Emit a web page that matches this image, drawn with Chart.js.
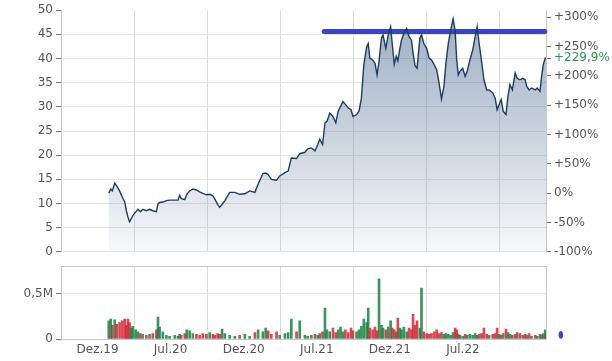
<!DOCTYPE html>
<html lang="de">
<head>
<meta charset="utf-8">
<script src="https://cdn.jsdelivr.net/npm/chart.js@4.4.1/dist/chart.umd.min.js"></script>
<style>
    html, body { margin: 0; padding: 0; background: #fff; }
    #wrap { position: relative; width: 612px; height: 361px; overflow: hidden; }
    #kursChart { position: absolute; left: 0; top: 0; }
    #volChart { position: absolute; left: 0; top: 256px; }
</style>
</head>
<body>
<div id="wrap">
    <canvas id="kursChart" width="612" height="262"></canvas>
    <canvas id="volChart" width="612" height="105"></canvas>
</div>
<script>
// Kursverlauf (Tage seit 31.12.2019), Schlusskurs und Volumen in Mio.
const tage = [
    28, 33, 37, 43, 48, 55, 62, 68, 72, 76,
    80, 84, 88, 95, 101, 107, 113, 122, 130, 138,
    147, 151, 155, 163, 172, 180, 193, 201, 205, 209,
    218, 223, 230, 238, 247, 255, 263, 272, 280, 288,
    293, 300, 305, 311, 318, 330, 343, 355, 368, 380,
    393, 401, 413, 420, 426, 434, 447, 455, 468, 476,
    484, 497, 505, 518, 525, 534, 543, 550, 555, 562,
    568, 573, 580, 588, 595, 601, 607, 613, 619, 626,
    633, 638, 647, 653, 659, 665, 672, 676, 680, 687,
    693, 698, 703, 709, 713, 720, 726, 732, 736, 741,
    746, 750, 755, 759, 765, 772, 778, 784, 788, 793,
    798, 805, 809, 815, 822, 828, 834, 841, 847, 853,
    859, 865, 870, 876, 882, 888, 893, 897, 901, 905,
    912, 918, 923, 930, 937, 943, 948, 953, 959, 965,
    972, 978, 987, 993, 998, 1003, 1008, 1013, 1020, 1025,
    1030, 1036, 1043, 1048, 1055, 1062, 1068, 1072, 1078, 1084,
    1093, 1098, 1105, 1109, 1113, 1118, 1120
];
const kurs = [
    12.14, 13.0, 12.6, 14.2, 13.6, 12.6, 11.3, 10.3, 8.5, 7.2,
    6.2, 6.8, 7.5, 8.2, 8.8, 8.3, 8.8, 8.5, 8.8, 8.5,
    8.3, 9.9, 10.2, 10.3, 10.6, 10.7, 10.7, 10.7, 11.7, 11.0,
    10.8, 11.9, 12.6, 13.0, 12.8, 12.4, 12.1, 11.8, 11.9, 11.6,
    10.9, 9.8, 9.2, 9.8, 10.6, 12.3, 12.3, 11.9, 12.0, 12.6,
    12.3, 14.0, 16.2, 16.3, 16.0, 15.0, 14.8, 15.7, 16.4, 16.7,
    19.4, 19.3, 20.3, 20.6, 21.3, 21.5, 20.9, 22.2, 23.3, 22.2,
    26.7, 27.0, 28.7, 28.0, 26.7, 29.1, 30.1, 31.1, 30.5, 29.8,
    29.4, 28.0, 28.4, 29.1, 31.8, 38.7, 42.4, 43.1, 40.1, 39.7,
    39.0, 36.6, 39.4, 44.2, 44.9, 42.1, 44.9, 46.6, 43.0, 38.8,
    40.5, 39.5, 42.0, 43.8, 45.2, 46.2, 44.5, 43.8, 41.1, 38.5,
    38.0, 44.2, 44.9, 43.1, 42.1, 40.1, 39.7, 38.7, 37.7, 34.9,
    31.6, 34.2, 39.0, 43.1, 45.9, 48.2, 45.9, 39.7, 36.6, 37.3,
    38.0, 36.3, 37.3, 39.7, 41.8, 44.5, 46.6, 43.1, 39.5, 35.6,
    33.5, 33.5, 32.9, 31.8, 29.4, 30.5, 31.5, 29.1, 28.4, 32.2,
    34.6, 33.5, 37.0, 35.9, 35.6, 35.9, 35.6, 34.2, 33.5, 33.9,
    33.5, 33.9, 33.2, 36.3, 38.7, 40.1, 40.05
];
const volumen = [
    0.20, 0.22, 0.15, 0.21, 0.16, 0.18, 0.20, 0.22, 0.15, 0.22,
    0.18, 0.12, 0.14, 0.10, 0.08, 0.06, 0.05, 0.04, 0.05, 0.06,
    0.10, 0.24, 0.13, 0.08, 0.04, 0.03, 0.04, 0.03, 0.05, 0.04,
    0.06, 0.10, 0.09, 0.06, 0.05, 0.04, 0.06, 0.05, 0.07, 0.05,
    0.04, 0.06, 0.05, 0.11, 0.06, 0.04, 0.03, 0.04, 0.05, 0.03,
    0.07, 0.10, 0.08, 0.12, 0.09, 0.05, 0.08, 0.04, 0.06, 0.07,
    0.22, 0.08, 0.20, 0.04, 0.03, 0.04, 0.05, 0.04, 0.06, 0.08,
    0.34, 0.10, 0.08, 0.12, 0.07, 0.10, 0.13, 0.08, 0.10, 0.07,
    0.12, 0.09, 0.08, 0.10, 0.14, 0.22, 0.18, 0.34, 0.12, 0.10,
    0.13, 0.09, 0.66, 0.15, 0.12, 0.10, 0.13, 0.20, 0.12, 0.10,
    0.08, 0.23, 0.12, 0.10, 0.13, 0.08, 0.12, 0.10, 0.27, 0.15,
    0.20, 0.12, 0.56, 0.08, 0.06, 0.05, 0.06, 0.08, 0.10, 0.06,
    0.07, 0.05, 0.06, 0.05, 0.04, 0.07, 0.12, 0.10, 0.05, 0.04,
    0.03, 0.05, 0.04, 0.05, 0.04, 0.06, 0.04, 0.05, 0.06, 0.12,
    0.05, 0.04, 0.05, 0.06, 0.12, 0.05, 0.04, 0.06, 0.11, 0.07,
    0.05, 0.04, 0.05, 0.07, 0.06, 0.04, 0.05, 0.04, 0.06, 0.03,
    0.04, 0.03, 0.05, 0.04, 0.06, 0.10, 0.04
];

// Achsen
const xMin = -91.25, xMax = 1120;
const gitterTage = [91.25, 273.75, 456.25, 638.75, 821.25, 1003.75];
const labelTage = [0, 182.5, 365, 547.5, 730, 912.5];
const labelTexte = ['Dez.19', 'Jul.20', 'Dez.20', 'Jul.21', 'Dez.21', 'Jul.22'];
const kursTicks = [0, 5, 10, 15, 20, 25, 30, 35, 40, 45, 50];
const prozentTicks = [-100, -50, 0, 50, 100, 150, 200, 250, 300];
const volTicks = [0, 0.5];

// Eingezeichnete Widerstandslinie und Markierung
const linieKurs = 45.6, linieVon = 566, linieBis = 1117;
const markerTag = 1157, markerVol = 0.045;

const grau = '#555';
const gitter = '#e4e4e4';
const rahmen = '#c8c8c8';
const gruen = '#2a9a4c';
const blau = '#3a44c6';
const leer = 'rgba(0,0,0,0)';
const schrift = { family: 'DejaVu Sans', size: 12 };

const basis = kurs[0];
const letzterProzent = (kurs[kurs.length - 1] / basis - 1) * 100;
const prozentMax = (50 / basis - 1) * 100;

const tickWert = c => (c && c.tick) ? c.tick.value : null;

function fmtProzent(v) {
    if (Math.abs(v - letzterProzent) < 1e-6) return '+' + v.toFixed(1).replace('.', ',') + '%';
    if (v > 0) return '+' + v + '%';
    return v + '%';
}

const kursPunkte = tage.map((t, i) => ({ x: t, y: kurs[i] }));
const volPunkte = tage.map((t, i) => ({ x: t, y: volumen[i] }));
const volFarben = kurs.map((k, i) => (i === 0 || k >= kurs[i - 1]) ? 'rgba(25,130,65,0.85)' : 'rgba(210,40,55,0.85)');

const xGitterTicks = [xMin, ...labelTage, ...gitterTage, xMax].sort((a, b) => a - b);

// Markierung liegt rechts neben der Zeichenfläche, daher eigenes Plugin
const markerPlugin = {
    id: 'marker',
    afterDraw(chart) {
        const { ctx, scales } = chart;
        const px = scales.x.getPixelForValue(markerTag);
        const py = scales.y.getPixelForValue(markerVol);
        ctx.save();
        ctx.fillStyle = blau;
        ctx.beginPath();
        ctx.ellipse(px, py, 2.2, 3.8, 0, 0, Math.PI * 2);
        ctx.fill();
        ctx.restore();
    }
};

function xAchse(mitLabels) {
    return {
        type: 'linear',
        min: xMin,
        max: xMax,
        offset: false,
        afterBuildTicks: s => { s.ticks = xGitterTicks.map(v => ({ value: v })); },
        afterFit: s => { s.height = mitLabels ? 22 : 0; },
        grid: {
            offset: false,
            color: c => {
                const v = tickWert(c);
                if (gitterTage.includes(v)) return '#dcdcdc';
                if (mitLabels && (v === xMin || v === xMax)) return rahmen;
                return leer;
            },
            drawTicks: false
        },
        border: { display: mitLabels, color: rahmen },
        ticks: {
            display: mitLabels,
            autoSkip: false,
            maxRotation: 0,
            padding: 4,
            color: grau,
            font: schrift,
            callback: v => {
                const i = labelTage.indexOf(v);
                return i >= 0 ? labelTexte[i] : '';
            }
        }
    };
}

// Hauptchart: Kurs
const ctxKurs = document.getElementById('kursChart').getContext('2d');
const verlauf = ctxKurs.createLinearGradient(0, 10, 0, 253);
verlauf.addColorStop(0, 'rgba(60,92,135,0.50)');
verlauf.addColorStop(0.45, 'rgba(60,92,135,0.30)');
verlauf.addColorStop(1, 'rgba(60,92,135,0.04)');

new Chart(ctxKurs, {
    type: 'line',
    data: {
        datasets: [
            {
                data: kursPunkte,
                borderColor: '#1d3c63',
                borderWidth: 1.4,
                pointRadius: 0,
                tension: 0,
                fill: 'origin',
                backgroundColor: verlauf,
                yAxisID: 'y'
            },
            {
                data: [{ x: linieVon, y: linieKurs }, { x: linieBis, y: linieKurs }],
                borderColor: blau,
                borderWidth: 5,
                borderCapStyle: 'round',
                pointRadius: 0,
                fill: false,
                clip: false,
                yAxisID: 'y'
            }
        ]
    },
    options: {
        responsive: false,
        animation: false,
        layout: { padding: { top: 10, bottom: 9, left: 0, right: 0 } },
        plugins: { legend: { display: false }, tooltip: { enabled: false } },
        scales: {
            x: xAchse(false),
            y: {
                position: 'left',
                min: 0,
                max: 50,
                afterBuildTicks: s => { s.ticks = kursTicks.map(v => ({ value: v })); },
                afterFit: s => { s.width = 61; },
                grid: {
                    color: c => tickWert(c) === 50 ? leer : gitter,
                    tickColor: '#777',
                    tickLength: 5
                },
                border: { color: rahmen },
                ticks: { color: grau, font: schrift, padding: 3, autoSkip: false }
            },
            y2: {
                position: 'right',
                min: -100,
                max: prozentMax,
                afterBuildTicks: s => { s.ticks = [...prozentTicks, letzterProzent].map(v => ({ value: v })); },
                afterFit: s => { s.width = 66; },
                grid: { drawOnChartArea: false, tickColor: '#777', tickLength: 5 },
                border: { color: rahmen },
                ticks: {
                    autoSkip: false,
                    padding: 3,
                    font: schrift,
                    color: c => Math.abs(tickWert(c) - letzterProzent) < 1e-6 ? gruen : grau,
                    callback: v => fmtProzent(v)
                }
            }
        }
    }
});

// Volumen
new Chart(document.getElementById('volChart').getContext('2d'), {
    type: 'bar',
    data: {
        datasets: [
            {
                data: volPunkte,
                backgroundColor: volFarben,
                barThickness: 2
            }
        ]
    },
    options: {
        responsive: false,
        animation: false,
        layout: { padding: { top: 6, bottom: 0, left: 0, right: 66 } },
        plugins: { legend: { display: false }, tooltip: { enabled: false } },
        scales: {
            x: xAchse(true),
            y: {
                position: 'left',
                min: 0,
                max: 0.8,
                afterBuildTicks: s => { s.ticks = [...volTicks, 0.8].map(v => ({ value: v })); },
                afterFit: s => { s.width = 61; },
                grid: {
                    color: c => tickWert(c) === 0.8 ? rahmen : gitter,
                    tickColor: c => tickWert(c) === 0.8 ? leer : '#777',
                    tickLength: 5
                },
                border: { color: rahmen },
                ticks: {
                    color: grau,
                    font: schrift,
                    padding: 3,
                    autoSkip: false,
                    callback: v => v === 0 ? '0' : (v === 0.5 ? '0,5M' : '')
                }
            }
        }
    },
    plugins: [markerPlugin]
});
</script>
</body>
</html>
